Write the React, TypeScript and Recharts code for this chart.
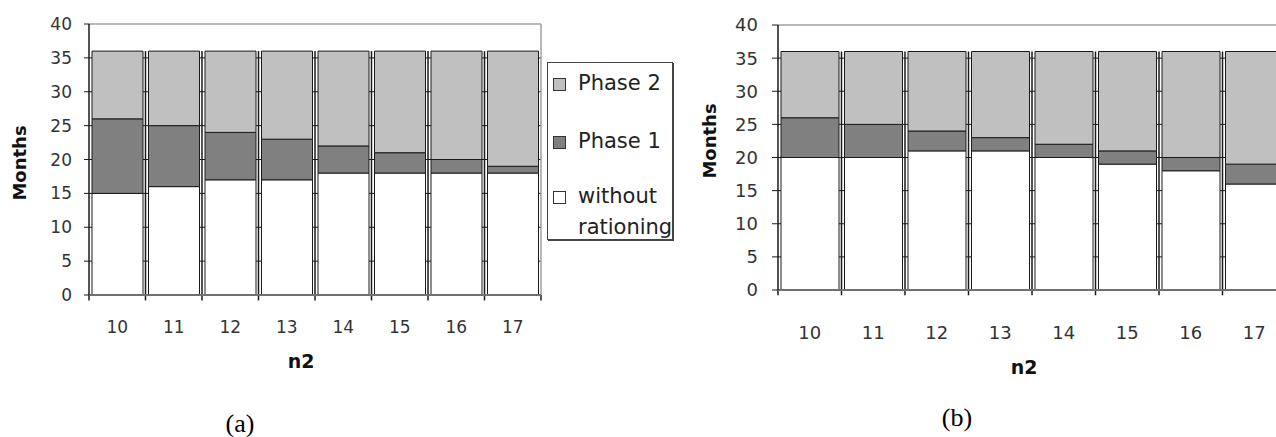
import React from 'react';
import {
  BarChart, Bar, XAxis, YAxis, CartesianGrid, ReferenceLine,
} from 'recharts';

// n2 values on the category axis
const n2Values = ['10', '11', '12', '13', '14', '15', '16', '17'];

// (a) months per phase, stacked
const withoutA = [15, 16, 17, 17, 18, 18, 18, 18];
const phase1A = [11, 9, 7, 6, 4, 3, 2, 1];
const phase2A = [10, 11, 12, 13, 14, 15, 16, 17];

// (b) months per phase, stacked
const withoutB = [20, 20, 21, 21, 20, 19, 18, 16];
const phase1B = [6, 5, 3, 2, 2, 2, 2, 3];
const phase2B = [10, 11, 12, 13, 14, 15, 16, 17];

const monthTicks = [0, 5, 10, 15, 20, 25, 30, 35, 40];
const innerTicks = [5, 10, 15, 20, 25, 30, 35];
const stackTop = 36;

// legend entries, top to bottom
const legendNames = ['Phase 2', 'Phase 1', 'without\nrationing'];

const PHASE2 = '#c0c0c0';
const PHASE1 = '#808080';
const WITHOUT = '#ffffff';
const legendColors = [PHASE2, PHASE1, WITHOUT];
const INK = '#1a1a1a';

const buildRows = (without, phase1, phase2) =>
  n2Values.map((n, i) => ({
    n2: n, without: without[i], phase1: phase1[i], phase2: phase2[i],
  }));

const LegendBox = () => {
  const rowTops = [5, 63, 118];
  return (
    <div
      style={{
        position: 'absolute', left: 547, top: 62, width: 126, height: 178, boxSizing: 'border-box',
        border: '1px solid #444', boxShadow: '1px 1px 0 #444', background: '#fff',
        fontFamily: 'DejaVu Sans', fontSize: 21, color: '#222',
      }}
    >
      {legendNames.map((name, i) => (
        <div
          key={name}
          style={{
            position: 'absolute', left: 5, top: rowTops[i], display: 'flex',
            alignItems: 'flex-start', lineHeight: '31px', whiteSpace: 'nowrap',
          }}
        >
          <span
            style={{
              display: 'inline-block', width: 11, height: 11, marginTop: 10, marginRight: 12,
              border: '1px solid #333', background: legendColors[i],
            }}
          />
          <span style={{ whiteSpace: 'pre-line' }}>{name}</span>
        </div>
      ))}
    </div>
  );
};

function RationingChart({
  rows, width, height, margin, yAxisWidth, xAxisHeight, yFont, xFont,
  yTickSize, yTickMargin, xTickMargin, monthsDy, n2Dx, n2Y, borderRight,
}) {
  const last = n2Values[n2Values.length - 1];
  return (
    <BarChart
      width={width}
      height={height}
      data={rows}
      margin={margin}
      barCategoryGap={3}
    >
      <CartesianGrid
        vertical={false}
        horizontalValues={innerTicks}
        stroke={INK}
        strokeWidth={1}
      />
      <XAxis
        dataKey="n2"
        tickLine={false}
        tickSize={0}
        tickMargin={xTickMargin}
        height={xAxisHeight}
        axisLine={{ stroke: '#707070', strokeWidth: 2 }}
        tick={{ fill: '#333', fontSize: xFont, fontFamily: 'DejaVu Sans' }}
        interval={0}
        label={{
          content: ({ viewBox }) => (
            <text
              x={viewBox.x + viewBox.width / 2 + n2Dx}
              y={n2Y}
              textAnchor="middle"
              dominantBaseline="central"
              fontFamily="DejaVu Sans"
              fontWeight="bold"
              fontSize={19}
              fill="#111"
            >
              n2
            </text>
          ),
        }}
      />
      <YAxis
        type="number"
        domain={[0, 40]}
        ticks={monthTicks}
        interval={0}
        width={yAxisWidth}
        tickSize={yTickSize}
        tickMargin={yTickMargin}
        axisLine={{ stroke: INK, strokeWidth: 1.5 }}
        tickLine={{ stroke: INK }}
        tick={{ fill: '#333', fontSize: yFont, fontFamily: 'DejaVu Sans' }}
        label={{
          content: ({ viewBox }) => {
            const cx = viewBox.x + 19.5;
            const cy = viewBox.y + viewBox.height / 2 + monthsDy;
            return (
              <text
                x={cx}
                y={cy}
                transform={`rotate(-90 ${cx} ${cy})`}
                textAnchor="middle"
                dominantBaseline="central"
                fontFamily="DejaVu Sans"
                fontWeight="bold"
                fontSize={18}
                fill="#111"
              >
                Months
              </text>
            );
          },
        }}
      />
      <ReferenceLine y={40} stroke="#a0a0a0" strokeWidth={1.5} />
      {borderRight && (
        <ReferenceLine
          ifOverflow="visible"
          position="end"
          segment={[{ x: last, y: 0 }, { x: last, y: 40 }]}
          stroke="#a0a0a0"
          strokeWidth={1.5}
        />
      )}
      {n2Values.map((n, k) => (
        <ReferenceLine
          key={n}
          ifOverflow="visible"
          position="start"
          segment={[{ x: n, y: -0.8 }, { x: n, y: k > 0 ? stackTop : 0 }]}
          stroke={INK}
          strokeWidth={1.5}
        />
      ))}
      <ReferenceLine
        ifOverflow="visible"
        position="end"
        segment={[{ x: last, y: -0.8 }, { x: last, y: 0 }]}
        stroke={INK}
        strokeWidth={1.5}
      />
      <Bar dataKey="without" name="without rationing" stackId="m" fill={WITHOUT} stroke={INK} isAnimationActive={false} />
      <Bar dataKey="phase1" name="Phase 1" stackId="m" fill={PHASE1} stroke={INK} isAnimationActive={false} />
      <Bar dataKey="phase2" name="Phase 2" stackId="m" fill={PHASE2} stroke={INK} isAnimationActive={false} />
    </BarChart>
  );
}

export default function App() {
  return (
    <div
      style={{
        position: 'absolute', left: 0, top: 0, width: 1276, height: 437,
        overflow: 'hidden', background: '#fff',
      }}
    >
      <div style={{ position: 'absolute', left: 0, top: 0 }}>
        <RationingChart
          rows={buildRows(withoutA, phase1A, phase2A)}
          width={690}
          height={437}
          margin={{ top: 24, right: 149, left: 0, bottom: 0 }}
          yAxisWidth={89}
          xAxisHeight={142}
          yFont={17}
          xFont={17}
          yTickSize={5}
          yTickMargin={12}
          xTickMargin={26}
          monthsDy={3.5}
          n2Dx={-14}
          n2Y={361}
          borderRight
        />
      </div>
      <LegendBox />
      <div style={{ position: 'absolute', left: 690, top: 0 }}>
        <RationingChart
          rows={buildRows(withoutB, phase1B, phase2B)}
          width={596}
          height={437}
          margin={{ top: 25, right: 0, left: 0, bottom: 0 }}
          yAxisWidth={88}
          xAxisHeight={147}
          yFont={18}
          xFont={18}
          yTickSize={6}
          yTickMargin={14}
          xTickMargin={36}
          monthsDy={-16.5}
          n2Dx={-8}
          n2Y={367}
        />
      </div>
      <div
        style={{
          position: 'absolute', left: 200, top: 408, width: 80, textAlign: 'center',
          fontFamily: 'Liberation Serif', fontSize: 26, lineHeight: '32px',
        }}
      >
        (a)
      </div>
      <div
        style={{
          position: 'absolute', left: 917, top: 402, width: 80, textAlign: 'center',
          fontFamily: 'Liberation Serif', fontSize: 26, lineHeight: '32px',
        }}
      >
        (b)
      </div>
    </div>
  );
}
